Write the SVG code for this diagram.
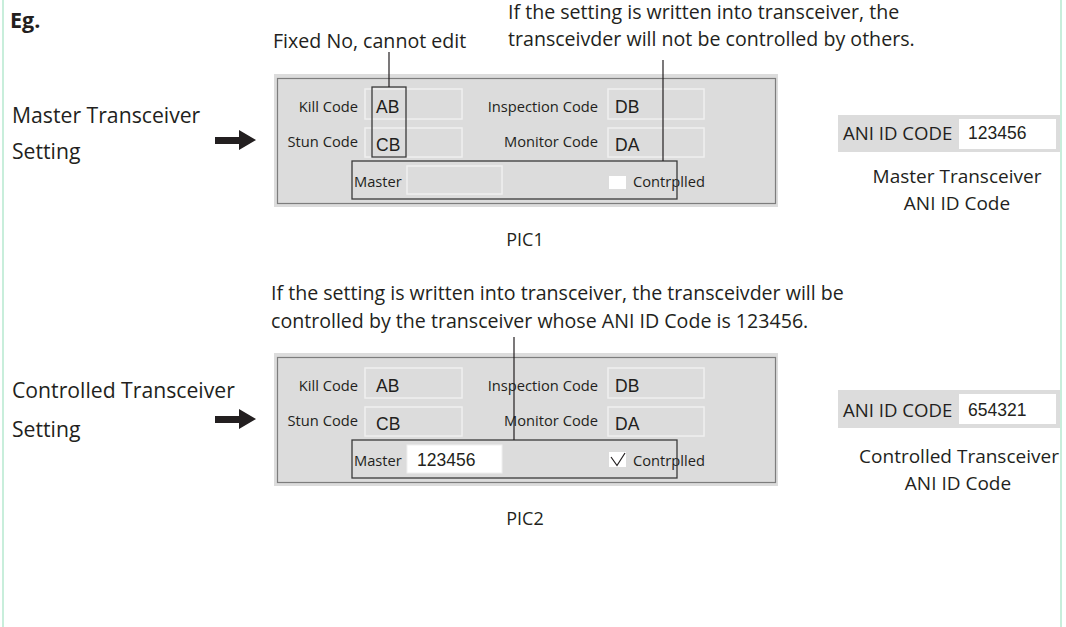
<svg xmlns="http://www.w3.org/2000/svg" width="1066" height="627" viewBox="0 0 1066 627">
<defs>
<style>
.t{font-family:"Open Sans","Noto Sans","DejaVu Sans",sans-serif;fill:#231f20}
.big{font-size:21.2px}
.note{font-size:19.6px}
.cap{font-size:19px}
.lbl{font-size:14.7px}
.val{font-family:"Liberation Sans",Arial,sans-serif;font-size:17.5px;fill:#231f20}
.panel{fill:#dcdcdc}
.pborder{fill:none;stroke:#7d7d7d;stroke-width:1.2}
.field{fill:#dcdcdc;stroke:#efefef;stroke-width:1.5}
.wfield{fill:#ffffff;stroke:#efefef;stroke-width:1}
.hl{fill:none;stroke:#3a3a3a;stroke-width:1.3}
.conn{stroke:#231f20;stroke-width:1.2;fill:none}
.arrow{fill:#231f20}
.frame{stroke:#c8eedb;stroke-width:2}
</style>
</defs>
<rect x="0" y="0" width="1066" height="627" fill="#ffffff"/>
<line class="frame" x1="3" y1="0" x2="3" y2="627"/>
<line class="frame" x1="1061" y1="0" x2="1061" y2="627"/>

<text class="t" x="10" y="28" style="font-size:21.5px;font-weight:bold">Eg.</text>

<g id="label-master">
<text class="t big" x="12" y="123">Master Transceiver</text>
<text class="t big" x="12" y="159">Setting</text>
<polygon class="arrow" points="215,137 239,137 239,130 256,140 239,150 239,144 215,144"/>
</g>

<g id="label-controlled">
<text class="t big" x="12" y="398">Controlled Transceiver</text>
<text class="t big" x="12" y="437">Setting</text>
<polygon class="arrow" points="215,416 239,416 239,409 256,419 239,429 239,423 215,423"/>
</g>

<g id="note-fixed">
<text class="t note" x="273" y="48">Fixed No, cannot edit</text>
</g>
<g id="note-pic1">
<text class="t note" x="508" y="19">If the setting is written into transceiver, the</text>
<text class="t note" x="508" y="46">transceivder will not be controlled by others.</text>
</g>
<g id="note-pic2">
<text class="t note" x="271" y="300">If the setting is written into transceiver, the transceivder will be</text>
<text class="t note" x="271" y="328">controlled by the transceiver whose ANI ID Code is 123456.</text>
</g>

<g id="pic1">
<rect class="panel" x="274" y="74" width="504" height="133"/>
<rect class="pborder" x="277.5" y="78.5" width="498" height="125"/>
<rect class="field" x="365" y="89" width="97" height="30"/>
<rect class="field" x="365" y="128" width="97" height="29"/>
<rect class="field" x="608" y="89" width="96" height="30"/>
<rect class="field" x="608" y="128" width="96" height="29"/>
<rect class="field" x="407" y="166" width="95" height="28"/>
<text class="t lbl" x="358" y="112" text-anchor="end">Kill Code</text>
<text class="t lbl" x="358" y="147" text-anchor="end">Stun Code</text>
<text class="t lbl" x="598" y="112" text-anchor="end">Inspection Code</text>
<text class="t lbl" x="598" y="147" text-anchor="end">Monitor Code</text>
<text class="t lbl" x="354" y="187">Master</text>
<text class="val" x="376" y="113">AB</text>
<text class="val" x="376" y="151">CB</text>
<text class="val" x="615" y="113">DB</text>
<text class="val" x="615" y="151">DA</text>
<rect x="609" y="176" width="17" height="13" fill="#ffffff"/>
<text class="t lbl" x="633" y="187">Contrplled</text>
<rect class="hl" x="372" y="87" width="34" height="70"/>
<rect class="hl" x="352" y="161" width="325" height="38"/>
<text class="t" x="525" y="246" text-anchor="middle" style="font-size:18px">PIC1</text>
</g>

<g id="pic2">
<rect class="panel" x="274" y="353" width="504" height="133"/>
<rect class="pborder" x="277.5" y="357.5" width="498" height="125"/>
<rect class="field" x="365" y="368" width="97" height="30"/>
<rect class="field" x="365" y="407" width="97" height="29"/>
<rect class="field" x="608" y="368" width="96" height="30"/>
<rect class="field" x="608" y="407" width="96" height="29"/>
<rect class="wfield" x="407" y="445" width="95" height="28"/>
<text class="t lbl" x="358" y="391" text-anchor="end">Kill Code</text>
<text class="t lbl" x="358" y="426" text-anchor="end">Stun Code</text>
<text class="t lbl" x="598" y="391" text-anchor="end">Inspection Code</text>
<text class="t lbl" x="598" y="426" text-anchor="end">Monitor Code</text>
<text class="t lbl" x="354" y="466">Master</text>
<text class="val" x="376" y="392">AB</text>
<text class="val" x="376" y="430">CB</text>
<text class="val" x="615" y="392">DB</text>
<text class="val" x="615" y="430">DA</text>
<text class="val" x="417" y="466">123456</text>
<rect x="609" y="452" width="17" height="15" fill="#ffffff"/>
<polyline points="611,457 617,465.5 625,453" fill="none" stroke="#231f20" stroke-width="1.2"/>
<text class="t lbl" x="633" y="466">Contrplled</text>
<rect class="hl" x="352" y="440" width="325" height="38"/>
<text class="t" x="525" y="525" text-anchor="middle" style="font-size:18px">PIC2</text>
</g>

<g id="ani-master">
<rect x="838" y="115" width="222" height="37" fill="#dcdcdc"/>
<rect x="959" y="119" width="97" height="30" fill="#ffffff"/>
<text class="t" x="843" y="140" style="font-size:18.6px">ANI ID CODE</text>
<text class="val" x="968" y="139">123456</text>
<text class="t cap" x="957" y="183" text-anchor="middle">Master Transceiver</text>
<text class="t cap" x="957" y="210" text-anchor="middle">ANI ID Code</text>
</g>

<g id="ani-controlled">
<rect x="838" y="390" width="222" height="38" fill="#dcdcdc"/>
<rect x="959" y="394" width="97" height="30" fill="#ffffff"/>
<text class="t" x="843" y="417" style="font-size:18.6px">ANI ID CODE</text>
<text class="val" x="968" y="416">654321</text>
<text class="t cap" x="959" y="463" text-anchor="middle">Controlled Transceiver</text>
<text class="t cap" x="958" y="490" text-anchor="middle">ANI ID Code</text>
</g>

<g id="connectors">
<line class="conn" x1="389" y1="52" x2="389" y2="87"/>
<line class="conn" x1="663" y1="60" x2="663" y2="161"/>
<line class="conn" x1="514" y1="337" x2="514" y2="440"/>
</g>
</svg>
